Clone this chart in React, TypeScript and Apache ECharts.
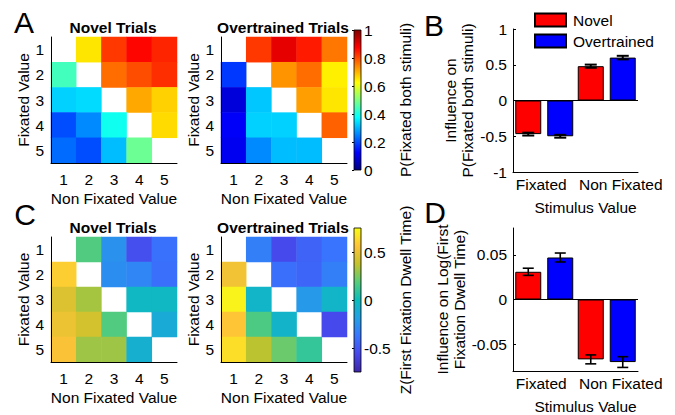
import React, { useEffect, useRef } from "react";
import * as echarts from "echarts";

// ---------- DATA ----------
const valueCats = ["1", "2", "3", "4", "5"];

// P(Fixated both stimuli): rows = fixated value 1..5, cols = non fixated value 1..5
const novelProb: (number | null)[][] = [
  [null, 0.65, 0.82, 0.87, 0.84],
  [0.44, null, 0.77, 0.8, 0.83],
  [0.33, 0.34, null, 0.71, 0.67],
  [0.2, 0.26, 0.39, null, 0.66],
  [0.23, 0.2, 0.31, 0.48, null],
];
const overProb: (number | null)[][] = [
  [null, 0.82, 0.9, 0.85, 0.76],
  [0.18, null, 0.73, 0.77, 0.64],
  [0.09, 0.32, null, 0.72, 0.65],
  [0.12, 0.33, 0.33, null, 0.78],
  [0.11, 0.26, 0.31, 0.31, null],
];
// Z(First Fixation Dwell Time)
const novelDwell: (number | null)[][] = [
  [null, 0.17, -0.25, -0.53, -0.39],
  [0.6, null, -0.27, -0.3, -0.4],
  [0.45, 0.32, null, -0.03, -0.03],
  [0.5, 0.42, 0.17, null, -0.12],
  [0.55, 0.31, 0.31, -0.09, null],
];
const overDwell: (number | null)[][] = [
  [null, -0.33, -0.55, -0.45, -0.38],
  [0.52, null, -0.4, -0.44, -0.33],
  [0.72, -0.05, null, -0.22, -0.05],
  [0.57, 0.16, -0.06, null, -0.55],
  [0.65, 0.36, 0.22, 0.1, null],
];

const probRange = [0, 1];
const probTicks = [0, 0.2, 0.4, 0.6, 0.8, 1];
const dwellRange = [-0.75, 0.75];
const dwellTicks = [-0.5, 0, 0.5];

const stimCats = ["Fixated", "Non Fixated"];
const novelInfluenceB = [-0.47, 0.48];
const overInfluenceB = [-0.5, 0.6];
const novelErrB = [0.02, 0.022];
const overErrB = [0.02, 0.025];
const bTicks = [-1, -0.5, 0, 0.5, 1];

const novelInfluenceD = [0.031, -0.067];
const overInfluenceD = [0.047, -0.07];
const novelErrD = [0.004, 0.005];
const overErrD = [0.005, 0.006];
const dRange = [-0.08, 0.08];
const dTicks = [-0.05, 0, 0.05];

// ---------- STYLE ----------
const FONT = "'Liberation Sans', Arial, Helvetica, sans-serif";
const FS = 15.5;
const jet = ["#000080", "#0000ff", "#0080ff", "#00ffff", "#80ff80", "#ffff00", "#ff8000", "#ff0000", "#800000"];
const parula = ["#3e26a8", "#4747eb", "#3875fe", "#23a0e5", "#0bbdbc", "#57cc7a", "#c5c22a", "#fec338", "#f9fb15"];

function toHeat(m: (number | null)[][]) {
  const out: number[][] = [];
  m.forEach((row, r) =>
    row.forEach((v, c) => {
      if (v !== null) out.push([c, r, v]);
    })
  );
  return out;
}

const black = "#000";
const txt = { fontSize: FS, color: black, fontFamily: FONT };

function heatX(gi: number) {
  return {
    type: "category",
    gridIndex: gi,
    data: valueCats,
    z: 5,
    axisLine: { lineStyle: { color: black, width: 1 } },
    axisTick: { inside: true, alignWithLabel: true, length: 3, lineStyle: { color: black } },
    axisLabel: { ...txt, margin: 8 },
    splitLine: { show: false },
    name: "Non Fixated Value",
    nameLocation: "middle",
    nameGap: 27,
    nameTextStyle: txt,
  };
}
function heatY(gi: number) {
  return {
    type: "category",
    gridIndex: gi,
    data: valueCats,
    inverse: true,
    z: 5,
    axisLine: { lineStyle: { color: black, width: 1 } },
    axisTick: { inside: true, alignWithLabel: true, length: 3, lineStyle: { color: black } },
    axisLabel: { ...txt, margin: 7 },
    splitLine: { show: false },
    name: "Fixated Value",
    nameLocation: "middle",
    nameRotate: 90,
    nameGap: 19,
    nameTextStyle: txt,
  };
}

function colorbarRender(range: number[], colors: string[]) {
  return (params: any, api: any) => {
    const p0 = api.coord([0, range[0]]);
    const p1 = api.coord([1, range[1]]);
    const stops = colors.map((c, i) => ({ offset: i / (colors.length - 1), color: c }));
    return {
      type: "rect",
      shape: { x: p0[0], y: p1[1], width: p1[0] - p0[0], height: p0[1] - p1[1] },
      style: { fill: new echarts.graphic.LinearGradient(0, 1, 0, 0, stops), stroke: black, lineWidth: 0.8 },
    };
  };
}

function errRender(offset: number, capW: number, lw: number) {
  return (params: any, api: any) => {
    const x = api.value(0);
    const m = api.value(1);
    const e = api.value(2);
    const top = api.coord([x, m + e]);
    const bot = api.coord([x, m - e]);
    const cx = top[0] + offset;
    const st = { stroke: black, lineWidth: lw };
    return {
      type: "group",
      children: [
        { type: "line", shape: { x1: cx, y1: top[1], x2: cx, y2: bot[1] }, style: st },
        { type: "line", shape: { x1: cx - capW / 2, y1: top[1], x2: cx + capW / 2, y2: top[1] }, style: st },
        { type: "line", shape: { x1: cx - capW / 2, y1: bot[1], x2: cx + capW / 2, y2: bot[1] }, style: st },
      ],
    };
  };
}

function barX(gi: number) {
  return {
    type: "category",
    gridIndex: gi,
    data: stimCats,
    axisLine: { onZero: false, lineStyle: { color: black, width: 1 } },
    axisTick: { show: false },
    axisLabel: {
      interval: 0,
      margin: 4,
      formatter: (v: string) => (v === "Non Fixated" ? "{n|" + v + "}" : "{f|" + v + "}"),
      rich: {
        n: { ...txt, padding: [0, 0, 0, 28] },
        f: { ...txt, padding: [0, 6, 0, 0] },
      },
    },
    name: "Stimulus Value",
    nameLocation: "middle",
    nameGap: 27,
    nameTextStyle: { ...txt, padding: [0, 0, 0, 20] },
  };
}

function barSeries(name: string, gi: number, data: number[], color: string, mark: boolean) {
  return {
    type: "bar",
    name,
    xAxisIndex: gi,
    yAxisIndex: gi,
    data,
    barWidth: 26,
    barGap: "23%",
    itemStyle: { color, borderColor: black, borderWidth: 1 },
    markLine: mark
      ? {
          silent: true,
          symbol: "none",
          label: { show: false },
          lineStyle: { color: black, type: "solid", width: 1 },
          data: [{ yAxis: 0 }],
        }
      : undefined,
  };
}

function errSeries(gi: number, means: number[], errs: number[], offset: number, capW: number, lw: number) {
  return {
    type: "custom",
    name: "err" + gi + offset,
    xAxisIndex: gi,
    yAxisIndex: gi,
    z: 10,
    data: means.map((m, i) => [i, m, errs[i]]),
    encode: { x: 0, y: 1 },
    renderItem: errRender(offset, capW, lw),
  };
}

function titleText(x: number, y: number, text: string) {
  return { type: "text", x, y, style: { text, font: `bold ${FS}px ${FONT}`, fill: black, align: "center", verticalAlign: "middle" } };
}
function letterText(x: number, y: number, text: string) {
  return { type: "text", x, y, style: { text, font: `30px ${FONT}`, fill: black, align: "center", verticalAlign: "middle" } };
}

export default function App() {
  const ref = useRef<HTMLDivElement>(null);
  useEffect(() => {
    if (!ref.current) return;
    const chart = echarts.init(ref.current, null, { renderer: "svg" });
    const option: any = {
      animation: false,
      backgroundColor: "#fff",
      textStyle: { fontFamily: FONT },
      grid: [
        { left: 51, top: 37, width: 126, height: 126 },
        { left: 221, top: 37, width: 126, height: 126 },
        { left: 51, top: 237, width: 126, height: 125 },
        { left: 221, top: 237, width: 126, height: 125 },
        { left: 513, top: 29, width: 125, height: 143 },
        { left: 513, top: 228, width: 125, height: 144 },
        { left: 354, top: 30, width: 7, height: 140 },
        { left: 354, top: 228, width: 7, height: 144 },
      ],
      xAxis: [
        heatX(0),
        heatX(1),
        heatX(2),
        heatX(3),
        barX(4),
        barX(5),
        { type: "value", gridIndex: 6, min: 0, max: 1, show: false },
        { type: "value", gridIndex: 7, min: 0, max: 1, show: false },
      ],
      yAxis: [
        heatY(0),
        heatY(1),
        heatY(2),
        heatY(3),
        {
          type: "value",
          gridIndex: 4,
          min: bTicks[0],
          max: bTicks[bTicks.length - 1],
          interval: 0.5,
          axisLine: { show: true, lineStyle: { color: black } },
          axisTick: { show: true, inside: true, length: 3, lineStyle: { color: black } },
          axisLabel: { ...txt, margin: 6 },
          splitLine: { show: false },
          name: "Influence on\nP(Fixated both stimuli)",
          nameLocation: "middle",
          nameRotate: 90,
          nameGap: 37,
          nameTextStyle: { ...txt, lineHeight: 17 },
        },
        {
          type: "value",
          gridIndex: 5,
          min: dRange[0],
          max: dRange[1],
          axisLine: { show: true, lineStyle: { color: black } },
          axisTick: { show: true, inside: true, length: 3, customValues: dTicks, lineStyle: { color: black } },
          axisLabel: { ...txt, margin: 6, customValues: dTicks },
          splitLine: { show: false },
          name: "Influence on Log(First\nFixation Dwell Time)",
          nameLocation: "middle",
          nameRotate: 90,
          nameGap: 37,
          nameTextStyle: { ...txt, lineHeight: 17 },
        },
        {
          type: "value",
          gridIndex: 6,
          position: "right",
          min: probRange[0],
          max: probRange[1],
          axisLine: { show: false },
          axisTick: { show: true, inside: true, length: 2, customValues: probTicks, lineStyle: { color: black } },
          axisLabel: { ...txt, margin: 3, customValues: probTicks },
          splitLine: { show: false },
          name: "P(Fixated both stimuli)",
          nameLocation: "middle",
          nameRotate: 90,
          nameGap: 36,
          nameTextStyle: txt,
        },
        {
          type: "value",
          gridIndex: 7,
          position: "right",
          min: dwellRange[0],
          max: dwellRange[1],
          axisLine: { show: false },
          axisTick: { show: true, inside: true, length: 2, customValues: dwellTicks, lineStyle: { color: black } },
          axisLabel: { ...txt, margin: 3, customValues: dwellTicks },
          splitLine: { show: false },
          name: "Z(First Fixation Dwell Time)",
          nameLocation: "middle",
          nameRotate: 90,
          nameGap: 36,
          nameTextStyle: txt,
        },
      ],
      visualMap: [
        { type: "continuous", show: false, seriesIndex: [0, 1], min: probRange[0], max: probRange[1], inRange: { color: jet } },
        { type: "continuous", show: false, seriesIndex: [2, 3], min: dwellRange[0], max: dwellRange[1], inRange: { color: parula } },
      ],
      legend: {
        data: ["Novel", "Overtrained"],
        orient: "vertical",
        left: 534,
        top: 12,
        padding: 0,
        itemWidth: 31,
        itemHeight: 13,
        itemGap: 5,
        icon: "rect",
        textStyle: { ...txt, padding: [0, 0, 0, 2] },
      },
      series: [
        { type: "heatmap", xAxisIndex: 0, yAxisIndex: 0, data: toHeat(novelProb) },
        { type: "heatmap", xAxisIndex: 1, yAxisIndex: 1, data: toHeat(overProb) },
        { type: "heatmap", xAxisIndex: 2, yAxisIndex: 2, data: toHeat(novelDwell) },
        { type: "heatmap", xAxisIndex: 3, yAxisIndex: 3, data: toHeat(overDwell) },
        barSeries("Novel", 4, novelInfluenceB, "#ff0000", true),
        barSeries("Overtrained", 4, overInfluenceB, "#0000ff", false),
        errSeries(4, novelInfluenceB, novelErrB, -16, 12, 2),
        errSeries(4, overInfluenceB, overErrB, 16, 12, 2),
        barSeries("Novel", 5, novelInfluenceD, "#ff0000", true),
        barSeries("Overtrained", 5, overInfluenceD, "#0000ff", false),
        errSeries(5, novelInfluenceD, novelErrD, -16, 11, 1.6),
        errSeries(5, overInfluenceD, overErrD, 16, 11, 1.6),
        {
          type: "custom",
          xAxisIndex: 6,
          yAxisIndex: 6,
          data: [[0, 0]],
          renderItem: colorbarRender(probRange, jet),
        },
        {
          type: "custom",
          xAxisIndex: 7,
          yAxisIndex: 7,
          data: [[0, 0]],
          renderItem: colorbarRender(dwellRange, parula),
        },
      ],
      graphic: [
        titleText(113, 27, "Novel Trials"),
        titleText(283, 27, "Overtrained Trials"),
        titleText(113, 227, "Novel Trials"),
        titleText(283, 227, "Overtrained Trials"),
        letterText(24, 22, "A"),
        letterText(434, 25, "B"),
        letterText(25, 214, "C"),
        letterText(435, 212, "D"),
      ],
    };
    chart.setOption(option);
    return () => chart.dispose();
  }, []);
  return <div ref={ref} style={{ position: "absolute", left: 0, top: 0, width: 675, height: 415 }} />;
}
